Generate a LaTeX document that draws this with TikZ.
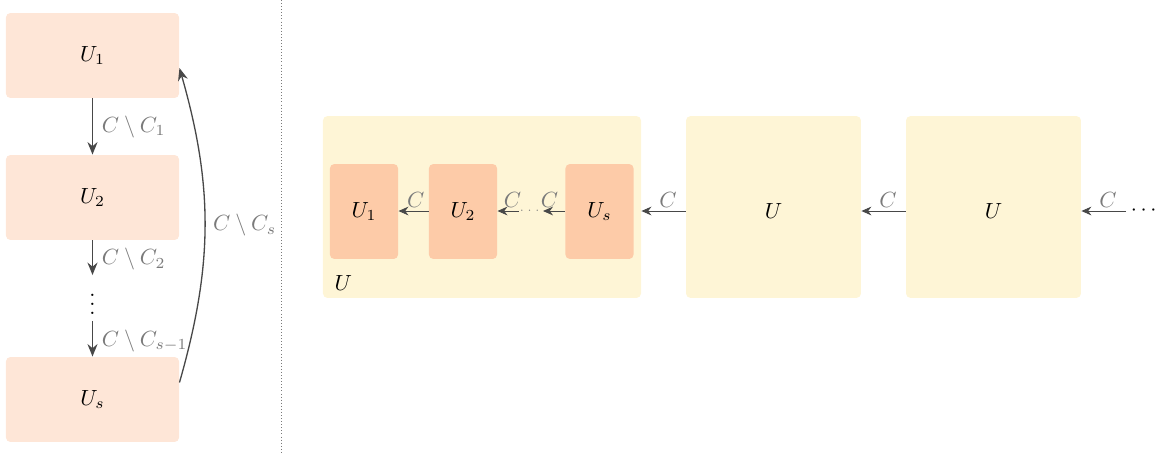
\documentclass[tikz,border=0pt]{standalone}
\usepackage{amsmath}
\usepackage{amssymb}
\usetikzlibrary{arrows.meta, positioning, calc}
\definecolor{ucPeach}{HTML}{FEE6D7}
\definecolor{ucInner}{HTML}{FDCBA8}
\definecolor{ucYellow}{HTML}{FEF5D6}
\definecolor{ucArrow}{HTML}{484848}
\definecolor{ucMute}{HTML}{7A7A7A}
\tikzset{
  unode/.style={rounded corners=2pt, align=center, inner sep=0pt},
  leftbox/.style={unode, fill=ucPeach, minimum width=2.77cm, minimum height=1.36cm},
  innerbox/.style={unode, fill=ucInner, minimum width=1.09cm, minimum height=1.52cm},
  bigbox/.style={unode, fill=ucYellow, minimum height=2.91cm},
  flow/.style={-{Stealth[length=2mm, width=1.6mm]}, semithick, ucArrow},
  thinflow/.style={-{Stealth[length=1.6mm, width=1.4mm]}, ucArrow},
  tag/.style={text=ucMute, inner sep=1.5pt},
  sidetag/.style={tag, right, xshift=2.5pt}
}
\begin{document}
\begin{tikzpicture}[x=0.016cm, y=-0.016cm]
  \useasboundingbox (0,0) rectangle (1163,454);
  % left: chain of sub-universes
  \node[leftbox] (u1) at (92.5,55.5) {$U_1$};
  \node[leftbox] (u2) at (92.5,197.5) {$U_2$};
  \node[inner sep=0pt, minimum height=0.72cm] (vd) at (92.5,298) {$\vdots$};
  \node[leftbox] (us) at (92.5,399.5) {$U_s$};
  \draw[flow] (u1) -- node[sidetag] {$C\setminus C_1$} (u2);
  \draw[flow] (u2) -- node[sidetag, pos=0.55] {$C\setminus C_2$} (vd);
  \draw[flow] (vd) -- node[sidetag, pos=0.55] {$C\setminus C_{s-1}$} (us);
  \draw[flow] ($(us.east)+(0,-17)$) to[bend right=16]
    node[tag, right=2pt] {$C\setminus C_s$} ($(u1.east)+(0,12.5)$);
  % separator
  \coordinate (sepTop) at (281,0);
  \coordinate (sepBot) at (281,454);
  \draw[densely dotted, ucMute] (sepTop) -- (sepBot);
  % right: one round as a universe U
  \node[bigbox, minimum width=5.09cm] (bU) at (482,207) {};
  \node[tag, text=black, anchor=south west] (bUl) at (331,294) {$U$};
  \node[innerbox] (i1) at (364,211.5) {$U_1$};
  \node[innerbox] (i2) at (463,211.5) {$U_2$};
  \node[innerbox] (is) at (599.5,211.5) {$U_s$};
  \node[inner sep=0pt, minimum width=0.35cm, font=\tiny, text=ucMute] (idots) at (531,211) {$\cdots$};
  \draw[thinflow] (i2.west |- 0,211) -- node[tag, above, xshift=1pt] {$C$} (i1.east |- 0,211);
  \draw[thinflow] (idots.west) -- node[tag, above, pos=0.3] {$C$} (i2.east |- 0,211);
  \draw[thinflow] (is.west |- 0,211) -- node[tag, above, pos=0.7] {$C$} (idots.east);
  \node[bigbox, minimum width=2.8cm] (b2) at (773.5,207) {};
  \node[bigbox, minimum width=2.8cm] (b3) at (993.5,207) {};
  \node[inner sep=0pt] (b2l) at (b2 |- 0,211) {$U$};
  \node[inner sep=0pt] (b3l) at (b3 |- 0,211) {$U$};
  \node[anchor=west, inner sep=2pt] (odots) at (1126,211) {$\cdots$};
  \draw[thinflow] (b2.west |- 0,211) -- node[tag, above, xshift=2pt] {$C$} (bU.east |- 0,211);
  \draw[thinflow] (b3.west |- 0,211) -- node[tag, above, xshift=2pt] {$C$} (b2.east |- 0,211);
  \draw[thinflow] (odots.west) -- node[tag, above, xshift=2pt] {$C$} (b3.east |- 0,211);
\end{tikzpicture}
\end{document}
